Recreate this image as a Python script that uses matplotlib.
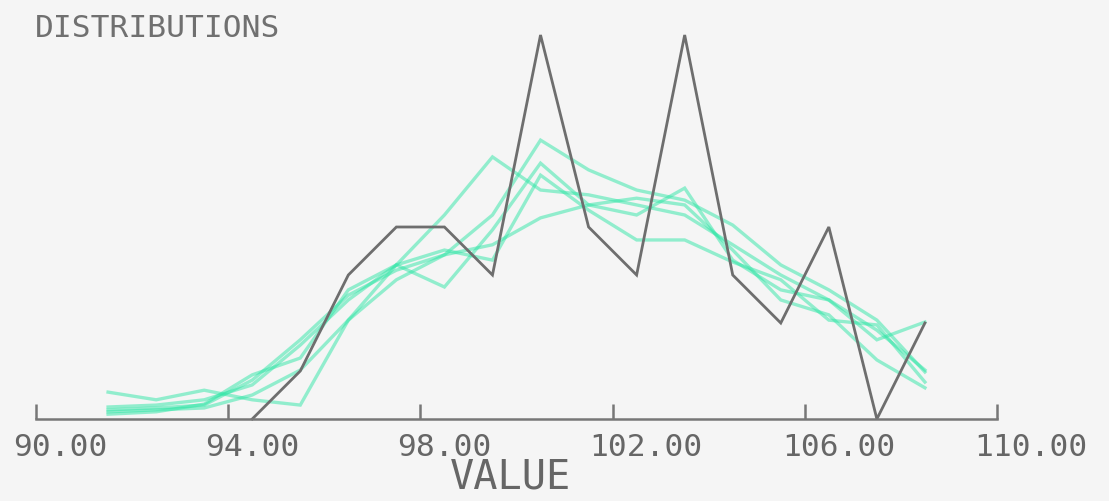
import matplotlib
matplotlib.use("Agg")
import matplotlib.pyplot as plt
from matplotlib.transforms import ScaledTranslation

# ---- data ----
gray_x = [94.5, 95.5, 96.5, 97.5, 98.5, 99.5, 100.5, 101.5, 102.5, 103.5,
          104.5, 105.5, 106.5, 107.5, 108.5]
gray_y = [0, 1, 3, 4, 4, 3, 8, 4, 3, 8, 3, 2, 4, 0, 2]

teal_x = [91.5, 92.5, 93.5, 94.5, 95.5, 96.5, 97.5, 98.5, 99.5, 100.5,
          101.5, 102.5, 103.5, 104.5, 105.5, 106.5, 107.5, 108.5]
teal_1 = [0.25, 0.29, 0.40, 0.71, 1.54, 2.48, 3.21, 4.25, 5.46, 4.77,
          4.67, 4.46, 4.25, 3.63, 3.00, 2.48, 1.85, 1.02]
teal_2 = [0.19, 0.23, 0.29, 0.81, 1.65, 2.58, 3.10, 3.42, 4.25, 5.81,
          5.19, 4.77, 4.56, 4.04, 3.21, 2.69, 2.06, 0.98]
teal_3 = [0.56, 0.40, 0.60, 0.40, 0.29, 2.06, 3.21, 2.75, 3.94, 5.33,
          4.46, 4.25, 4.81, 3.31, 2.69, 2.48, 1.65, 2.02]
teal_4 = [0.15, 0.19, 0.23, 0.50, 1.02, 2.06, 2.90, 3.42, 3.63, 4.19,
          4.46, 4.60, 4.46, 3.52, 2.48, 2.17, 1.23, 0.65]
teal_5 = [0.10, 0.15, 0.31, 0.92, 1.27, 2.69, 3.21, 3.52, 3.31, 5.08,
          4.35, 3.73, 3.73, 3.27, 2.90, 2.06, 1.96, 0.77]
teal_series = [teal_1, teal_2, teal_3, teal_4, teal_5]

xticks = [90, 94, 98, 102, 106, 110]
xtick_labels = ["90.00", "94.00", "98.00", "102.00", "106.00", "110.00"]
title = "DISTRIBUTIONS"
xlabel = "VALUE"

# ---- figure ----
W, H = 1109, 501
fig = plt.figure(figsize=(W / 100, H / 100), dpi=100, facecolor="#f5f5f5")
ax = fig.add_axes([36 / W, 1 - 419 / H, (997 - 36) / W, (419 - 35) / H])
ax.set_facecolor("#f5f5f5")

for s in teal_series:
    ax.plot(teal_x, s, color="#2fe6a6", alpha=0.5, lw=2.4, clip_on=False,
            solid_joinstyle="miter")
ax.plot(gray_x, gray_y, color="#6e6e6e", lw=2.0, clip_on=False,
        solid_joinstyle="miter")

ax.set_xlim(90, 110)
ax.set_ylim(0, 8)
for side in ["top", "right", "left"]:
    ax.spines[side].set_visible(False)
ax.spines["bottom"].set_color("#777777")
ax.spines["bottom"].set_linewidth(1.8)
ax.set_yticks([])
ax.set_xticks(xticks)
ax.set_xticklabels(xtick_labels, family="DejaVu Sans Mono", fontsize=22.5,
                   color="#666666", ha="left")
ax.tick_params(axis="x", direction="in", length=11, width=1.8,
               color="#777777", pad=10)
shift = ScaledTranslation(-23 / 100, 0, fig.dpi_scale_trans)
for lab in ax.get_xticklabels():
    lab.set_transform(lab.get_transform() + shift)

ax.set_xlabel(xlabel, family="DejaVu Sans Mono", fontsize=29,
              color="#666666")
ax.xaxis.set_label_coords((511 - 36) / (997 - 36), -0.1)
ax.xaxis.label.set_va("top")

fig.text(35 / W, 1 - 14 / H, title, family="DejaVu Sans Mono", fontsize=22.5,
         color="#707070", ha="left", va="top")

fig.savefig("out.png", dpi=100, facecolor=fig.get_facecolor())
